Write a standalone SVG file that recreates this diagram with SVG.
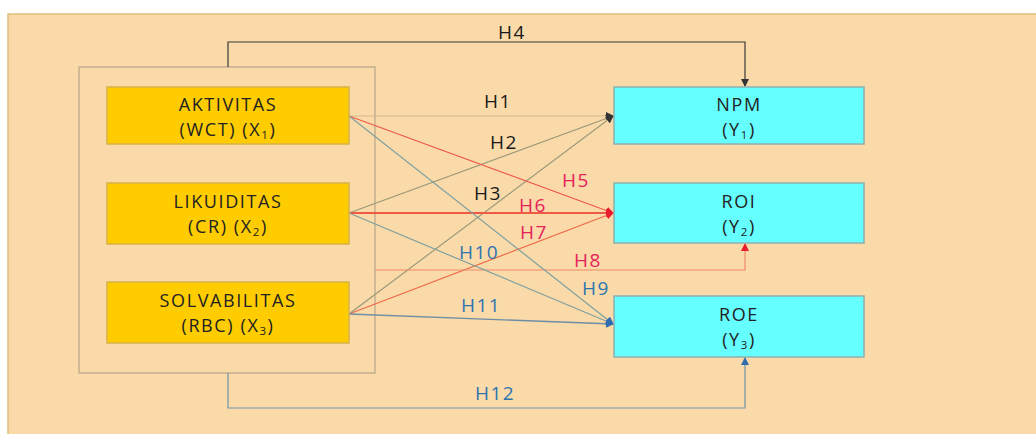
<svg xmlns="http://www.w3.org/2000/svg" width="1036" height="434" viewBox="0 0 1036 434">
<style>
.t{font-family:"Open Sans","Liberation Sans",sans-serif;font-size:18px;letter-spacing:1.6px;fill:#222;text-anchor:middle}
.s{font-size:11.5px}
.lbl{font-family:"Open Sans","Liberation Sans",sans-serif;font-size:19px;letter-spacing:1.5px;text-anchor:middle}
.k{fill:#1a1a1a}.r{fill:#E5215A}.b{fill:#2F74B0}
.x{fill:#FFCC00;stroke:#D8B24A;stroke-width:1.5}
.y{fill:#66FFFF;stroke:#8DB0B0;stroke-width:1.5}
.c{fill:none}
</style>
<defs>
<marker id="ak" markerWidth="8" markerHeight="8" refX="7" refY="4" orient="auto" markerUnits="userSpaceOnUse"><path d="M0,0 L8,4 L0,8 z" fill="#333"/></marker>
<marker id="ar" markerWidth="8" markerHeight="8" refX="7" refY="4" orient="auto" markerUnits="userSpaceOnUse"><path d="M0,0 L8,4 L0,8 z" fill="#E81E2E"/></marker>
<marker id="ab" markerWidth="8" markerHeight="8" refX="7" refY="4" orient="auto" markerUnits="userSpaceOnUse"><path d="M0,0 L8,4 L0,8 z" fill="#2F6CB0"/></marker>
</defs>
<rect x="0" y="0" width="1036" height="434" fill="#fff"/>
<rect x="8" y="14" width="1040" height="430" fill="#FADAA9" stroke="#DCBE7E" stroke-width="1.5"/>
<rect id="group" x="79" y="67" width="296" height="306" fill="none" stroke="#B9A68A" stroke-width="1.2"/>
<g id="connectors" class="c">
<polyline points="228,67 228,42 745,42 745,86" stroke="#3a3a3a" stroke-width="1.2" fill="none" marker-end="url(#ak)"/>
<line x1="349" y1="116" x2="613" y2="116" stroke="#D2B68E" stroke-width="1.2" marker-end="url(#ak)"/>
<line x1="349" y1="213" x2="613" y2="116" stroke="#9C9878" stroke-width="1.2" marker-end="url(#ak)"/>
<line x1="349" y1="314" x2="613" y2="116" stroke="#9C9878" stroke-width="1.2" marker-end="url(#ak)"/>
<line x1="349" y1="116" x2="613" y2="213" stroke="#EE5A48" stroke-width="1.2" marker-end="url(#ar)"/>
<line x1="349" y1="213" x2="613" y2="213" stroke="#F05A45" stroke-width="2" marker-end="url(#ar)"/>
<line x1="349" y1="314" x2="613" y2="213" stroke="#EE6A48" stroke-width="1.2" marker-end="url(#ar)"/>
<polyline points="375,270 745,270 745,244" stroke="#F08A6A" stroke-width="1.2" fill="none" marker-end="url(#ar)"/>
<line x1="349" y1="116" x2="613" y2="324" stroke="#7FA0A0" stroke-width="1.2" marker-end="url(#ab)"/>
<line x1="349" y1="213" x2="613" y2="324" stroke="#7FA0A0" stroke-width="1.2" marker-end="url(#ab)"/>
<line x1="349" y1="314" x2="613" y2="324" stroke="#6E8EA6" stroke-width="1.4" marker-end="url(#ab)"/>
<polyline points="228,373 228,408 745,408 745,358" stroke="#6E94AA" stroke-width="1.2" fill="none" marker-end="url(#ab)"/>
</g>
<g id="labels">
<text class="lbl k" x="512" y="39">H4</text>
<text class="lbl k" x="498" y="108">H1</text>
<text class="lbl k" x="504" y="149">H2</text>
<text class="lbl k" x="488" y="200">H3</text>
<text class="lbl r" x="576" y="187">H5</text>
<text class="lbl r" x="533" y="212">H6</text>
<text class="lbl r" x="534" y="239">H7</text>
<text class="lbl b" x="479" y="259">H10</text>
<text class="lbl r" x="588" y="267">H8</text>
<text class="lbl b" x="596" y="295">H9</text>
<text class="lbl b" x="481" y="312">H11</text>
<text class="lbl b" x="495" y="400">H12</text>
</g>
<g id="x1"><rect class="x" x="107" y="87" width="242" height="57"/>
<text class="t" x="228" y="111">AKTIVITAS</text>
<text class="t" x="228" y="136">(WCT) (X<tspan class="s" dy="3">1</tspan><tspan dy="-3">)</tspan></text></g>
<g id="x2"><rect class="x" x="107" y="183" width="242" height="61"/>
<text class="t" x="228" y="208">LIKUIDITAS</text>
<text class="t" x="228" y="233">(CR) (X<tspan class="s" dy="3">2</tspan><tspan dy="-3">)</tspan></text></g>
<g id="x3"><rect class="x" x="107" y="282" width="242" height="61"/>
<text class="t" x="228" y="307">SOLVABILITAS</text>
<text class="t" x="228" y="332">(RBC) (X<tspan class="s" dy="3">3</tspan><tspan dy="-3">)</tspan></text></g>
<g id="y1"><rect class="y" x="614" y="87" width="250" height="57"/>
<text class="t" x="739" y="111">NPM</text>
<text class="t" x="739" y="136">(Y<tspan class="s" dy="3">1</tspan><tspan dy="-3">)</tspan></text></g>
<g id="y2"><rect class="y" x="614" y="183" width="250" height="60"/>
<text class="t" x="739" y="208">ROI</text>
<text class="t" x="739" y="233">(Y<tspan class="s" dy="3">2</tspan><tspan dy="-3">)</tspan></text></g>
<g id="y3"><rect class="y" x="614" y="296" width="250" height="61"/>
<text class="t" x="739" y="321">ROE</text>
<text class="t" x="739" y="346">(Y<tspan class="s" dy="3">3</tspan><tspan dy="-3">)</tspan></text></g>
</svg>
